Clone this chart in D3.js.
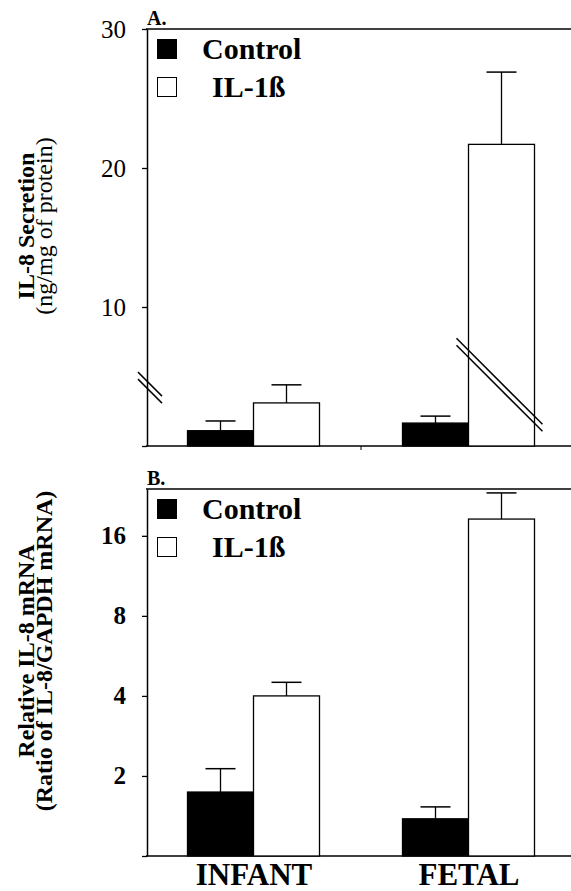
<!DOCTYPE html>
<html>
<head>
<meta charset="utf-8">
<script src="https://cdn.jsdelivr.net/npm/d3@7"></script>
<style>
  body { margin: 0; background: #fff; }
</style>
</head>
<body>
<svg id="chart" width="571" height="891"></svg>
<script>
// groups and series
const groups = ["INFANT", "FETAL"];
const series = ["Control", "IL-1ß"];

// panel A: IL-8 secretion (ng/mg of protein)
const secretionMean = [[1.1, 3.1], [1.65, 21.7]];
const secretionErr  = [[1.8, 4.4], [2.15, 26.9]];
const secretionTicks = [0, 10, 20, 30];

// panel B: relative IL-8 mRNA (log2 axis)
const mrnaMean = [[1.74, 4.0], [1.38, 18.5]];
const mrnaErr  = [[2.13, 4.5], [1.53, 23.2]];
const mrnaTicks = [1, 2, 4, 8, 16];

const W = 571;
const SERIF = "'Liberation Serif', 'Times New Roman', Times, 'DejaVu Serif', serif";
const svg = d3.select("#chart").attr("font-family", SERIF);

// x scales shared by both panels
const x = d3.scalePoint().domain(groups).range([146, 576]).padding(0.5);
const xs = d3.scaleBand().domain(series).range([-66, 66]);

const fills = { "Control": "#000", "IL-1ß": "#fff" };

function drawPanel(cfg) {
  const g = svg.append("g");
  const y = cfg.y;
  const top = y.range()[1], bottom = y.range()[0];

  // frame: top line and bottom axis line
  g.append("line").attr("x1", 146).attr("x2", W).attr("y1", top).attr("y2", top)
    .attr("stroke", "#000").attr("stroke-width", 1.3);
  g.append("line").attr("x1", 146).attr("x2", W).attr("y1", bottom).attr("y2", bottom)
    .attr("stroke", "#000").attr("stroke-width", 1.5);

  // y axis
  const ax = g.append("g")
    .attr("transform", "translate(147,0)")
    .call(d3.axisLeft(y).tickValues(cfg.ticks).tickSize(5).tickSizeOuter(0)
      .tickFormat(d => cfg.hideTick(d) ? "" : d));
  ax.attr("font-family", SERIF);
  ax.select(".domain").attr("stroke-width", 1.5);
  ax.selectAll(".tick line").attr("stroke-width", 1.3);
  ax.selectAll("text")
    .attr("x", -21)
    .style("font-family", SERIF)
    .style("font-size", "25px")
    .style("font-weight", cfg.tickWeight)
    .attr("fill", "#000");

  // panel letter
  g.append("text").attr("x", 147).attr("y", top - 4)
    .style("font-family", SERIF)
    .style("font-size", "20px").style("font-weight", "bold").text(cfg.letter);

  // y label (two lines)
  const cy = cfg.labelY;
  cfg.label.forEach((t, i) => {
    g.append("text")
      .attr("transform", "translate(" + [34 + i * 18, cy] + ") rotate(-90)")
      .attr("text-anchor", "middle")
      .style("font-family", SERIF)
      .style("font-size", "24px")
      .style("font-weight", cfg.labelWeights[i])
      .text(t);
  });

  // bars
  const rows = [];
  groups.forEach((grp, gi) => series.forEach((s, si) => {
    rows.push({ grp, s, v: cfg.mean[gi][si], e: cfg.err[gi][si] });
  }));

  const bx = d => x(d.grp) + xs(d.s);

  g.selectAll(".bar").data(rows).enter().append("rect")
    .attr("class", "bar")
    .attr("x", bx)
    .attr("width", xs.bandwidth())
    .attr("y", d => y(d.v))
    .attr("height", d => bottom - y(d.v))
    .attr("fill", d => fills[d.s])
    .attr("stroke", "#000").attr("stroke-width", 1.3);

  // error bars (upper only)
  g.selectAll(".err").data(rows).enter().append("line")
    .attr("x1", d => bx(d) + xs.bandwidth() / 2)
    .attr("x2", d => bx(d) + xs.bandwidth() / 2)
    .attr("y1", d => y(d.v)).attr("y2", d => y(d.e))
    .attr("stroke", "#000").attr("stroke-width", 1.3);
  g.selectAll(".cap").data(rows).enter().append("line")
    .attr("x1", d => bx(d) + xs.bandwidth() / 2 - 15)
    .attr("x2", d => bx(d) + xs.bandwidth() / 2 + 15)
    .attr("y1", d => y(d.e)).attr("y2", d => y(d.e))
    .attr("stroke", "#000").attr("stroke-width", 1.5);

  // legend
  const leg = g.append("g").attr("transform", "translate(157," + (top + 10) + ")");
  series.forEach((s, i) => {
    leg.append("rect").attr("x", 0.5).attr("y", i * 38 + 0.5)
      .attr("width", 19).attr("height", 19)
      .attr("fill", fills[s]).attr("stroke", "#000").attr("stroke-width", 1);
    leg.append("text").attr("x", i ? 55 : 45).attr("y", i * 38 + 20)
      .style("font-family", SERIF)
      .style("font-size", "30px").style("font-weight", "bold").text(s);
  });

  return g;
}

// panel A
const yA = d3.scaleLinear().domain([0, 30]).range([446, 29]);
const gA = drawPanel({
  y: yA, ticks: secretionTicks, hideTick: d => d === 0, tickWeight: "normal",
  letter: "A.", label: ["IL-8 Secretion", "(ng/mg of protein)"],
  labelWeights: ["bold", "normal"], labelY: 226,
  mean: secretionMean, err: secretionErr
});

// mid tick on the x axis
gA.append("line")
  .attr("x1", (x(groups[0]) + x(groups[1])) / 2).attr("x2", (x(groups[0]) + x(groups[1])) / 2)
  .attr("y1", yA(0)).attr("y2", yA(0) + 4)
  .attr("stroke", "#000").attr("stroke-width", 1);

// axis break marks
function breakMark(cx, cy, half) {
  [-3.5, 3.5].forEach(off => {
    gA.append("line")
      .attr("x1", cx - half).attr("y1", cy - half + off)
      .attr("x2", cx + half).attr("y2", cy + half + off)
      .attr("stroke", "#000").attr("stroke-width", 1.5);
  });
}
breakMark(150, yA(4.2), 12);
breakMark(x("FETAL") + xs("IL-1ß") + xs.bandwidth() / 2 - 2, yA(4.4), 43);

// panel B
const yB = d3.scaleLog().base(2).domain([1, 24]).range([856, 489]);
drawPanel({
  y: yB, ticks: mrnaTicks, hideTick: d => d === 1, tickWeight: "bold",
  letter: "B.", label: ["Relative IL-8 mRNA", "(Ratio of IL-8/GAPDH mRNA)"],
  labelWeights: ["bold", "bold"], labelY: 651,
  mean: mrnaMean, err: mrnaErr
});

// group labels
svg.append("g")
  .attr("transform", "translate(0," + yB(1) + ")")
  .call(d3.axisBottom(x).tickSize(0))
  .call(a => a.select(".domain").remove())
  .selectAll("text")
  .attr("y", 29).attr("dy", 0)
  .style("font-family", SERIF)
  .style("font-size", "31px").style("font-weight", "bold").attr("fill", "#000");
</script>
</body>
</html>
